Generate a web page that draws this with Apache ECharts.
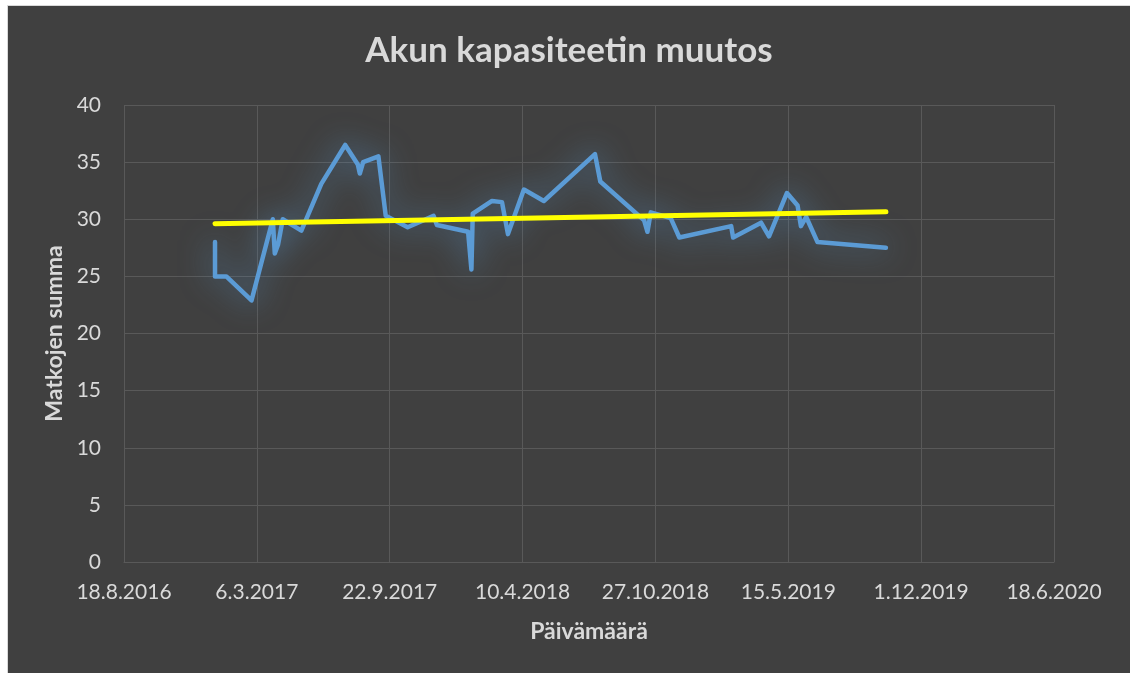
<!DOCTYPE html>
<html>
<head>
<meta charset="utf-8">
<script src="https://cdn.jsdelivr.net/npm/echarts@6/dist/echarts.min.js"></script>
<style>
  body { margin: 0; background: #ffffff; }
  #frame {
    position: absolute; left: 7px; top: 5px;
    border-left: 1px solid #d9d9d9; border-top: 1px solid #d9d9d9;
    background: #404040;
  }
  #chart { width: 1122px; height: 667px; }
</style>
</head>
<body>
<div id="frame"><div id="chart"></div></div>
<script>
var dates = [
  '2017-01-02', '2017-01-02', '2017-01-19', '2017-02-26', '2017-03-30', '2017-04-02',
  '2017-04-07', '2017-04-14', '2017-05-12', '2017-06-11', '2017-07-17', '2017-08-05',
  '2017-08-08', '2017-08-13', '2017-09-05', '2017-09-16', '2017-10-19', '2017-11-27',
  '2017-12-02', '2018-01-18', '2018-01-23', '2018-01-25', '2018-02-23', '2018-03-10',
  '2018-03-19', '2018-04-12', '2018-05-12', '2018-07-28', '2018-08-05', '2018-10-10',
  '2018-10-15', '2018-10-20', '2018-11-19', '2018-12-02', '2019-02-18', '2019-02-21',
  '2019-04-04', '2019-04-16', '2019-05-13', '2019-05-29', '2019-06-03', '2019-06-11',
  '2019-06-28', '2019-10-09'
];
var summa = [
  28.0, 25.0, 25.0, 22.9, 30.0, 27.0,
  27.8, 30.0, 29.0, 33.1, 36.5, 34.8,
  34.0, 35.0, 35.5, 30.3, 29.3, 30.3,
  29.5, 28.9, 25.6, 30.5, 31.6, 31.5,
  28.7, 32.6, 31.6, 35.7, 33.3, 29.9,
  28.9, 30.6, 30.1, 28.4, 29.4, 28.4,
  29.7, 28.5, 32.3, 31.2, 29.4, 30.2,
  28.0, 27.5
];
// linear trendline end points
var trendDates = ['2017-01-02', '2019-10-09'];
var trendValues = [29.6, 30.65];

var axisStart = '2016-08-18';
var axisDays = 1400;
var tickDays = 200;

function toUtc(s) {
  var p = s.split('-');
  return Date.UTC(+p[0], +p[1] - 1, +p[2]);
}
var origin = toUtc(axisStart);
function dayOf(s) { return Math.round((toUtc(s) - origin) / 86400000); }
function dateLabel(d) {
  var t = new Date(origin + d * 86400000);
  return t.getUTCDate() + '.' + (t.getUTCMonth() + 1) + '.' + t.getUTCFullYear();
}

var lineData = [];
for (var i = 0; i < dates.length; i++) {
  lineData.push([dayOf(dates[i]), summa[i]]);
}
var trendData = [];
for (var j = 0; j < trendDates.length; j++) {
  trendData.push([dayOf(trendDates[j]), trendValues[j]]);
}

var font = 'Lato, "Open Sans", sans-serif';
var textColor = '#d9d9d9';
var gridColor = '#595959';

var chart = echarts.init(document.getElementById('chart'));
chart.setOption({
  backgroundColor: '#404040',
  animation: false,
  title: {
    text: 'Akun kapasiteetin muutos',
    left: 'center',
    top: 22,
    textStyle: { color: textColor, fontFamily: font, fontWeight: 'bold', fontSize: 35 }
  },
  grid: { left: 116, top: 99, right: 76, bottom: 111 },
  xAxis: {
    type: 'value',
    min: 0,
    max: axisDays,
    interval: tickDays,
    name: 'Päivämäärä',
    nameLocation: 'middle',
    nameGap: 58,
    nameTextStyle: { color: textColor, fontFamily: font, fontWeight: 'bold', fontSize: 23 },
    axisLine: { show: true, lineStyle: { color: gridColor } },
    axisTick: { show: false },
    axisLabel: {
      color: textColor, fontFamily: font, fontSize: 21, margin: 20,
      formatter: function (v) { return dateLabel(v); }
    },
    splitLine: { show: true, lineStyle: { color: gridColor, width: 1 } }
  },
  yAxis: {
    type: 'value',
    min: 0,
    max: 40,
    interval: 5,
    name: 'Matkojen summa',
    nameLocation: 'middle',
    nameGap: 55,
    nameTextStyle: { color: textColor, fontFamily: font, fontWeight: 'bold', fontSize: 23 },
    axisLine: { show: false },
    axisTick: { show: false },
    axisLabel: { color: textColor, fontFamily: font, fontSize: 21, margin: 23 },
    splitLine: { show: true, lineStyle: { color: gridColor, width: 1 } }
  },
  series: [
    {
      name: 'Matkojen summa',
      type: 'line',
      data: lineData,
      symbol: 'none',
      lineStyle: {
        color: '#5b9bd5', width: 4.5, join: 'round', cap: 'round',
        shadowColor: 'rgba(91,155,213,0.8)', shadowBlur: 30
      }
    },
    {
      name: 'Trendi',
      type: 'line',
      data: trendData,
      symbol: 'none',
      lineStyle: { color: '#ffff00', width: 5, cap: 'round' }
    }
  ]
});
</script>
</body>
</html>
